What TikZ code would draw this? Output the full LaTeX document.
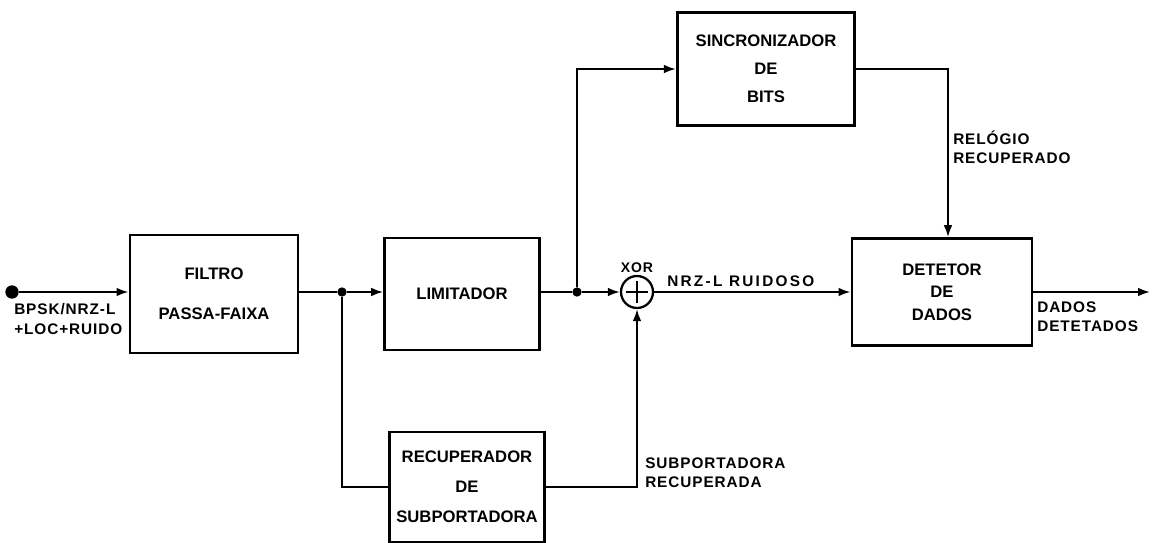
\documentclass[tikz,border=0pt]{standalone}
\usepackage{fontspec}
\setmainfont{Liberation Sans}
\newfontfamily\rotulofont[LetterSpace=6]{Liberation Sans}
\newfontfamily\largafont[LetterSpace=15]{Liberation Sans}
\usetikzlibrary{arrows.meta}
\usetikzlibrary{positioning}

\tikzset{
  bloco/.style={draw, line width=2.2pt, align=center, inner sep=2pt,
    font=\fontsize{12.5}{15}\selectfont\bfseries},
  rotulo/.style={anchor=west, align=left, inner sep=0pt,
    font=\rotulofont\fontsize{11.5}{14.5}\selectfont\bfseries},
  seta/.style={line width=1.5pt, -{Latex[length=9pt,width=6.5pt]}},
  linha/.style={line width=1.5pt},
  ponto/.style={circle, fill, inner sep=0pt, minimum size=7pt},
}

\begin{document}
\begin{tikzpicture}[x=0.75pt, y=-0.75pt]
\useasboundingbox (0,0) rectangle (1158,543);

% blocos
\node (filtro) [bloco, minimum width=126pt, minimum height=88.5pt] at (214,294) {FILTRO\\[15pt]PASSA-FAIXA};
\node (limitador) [bloco, minimum width=116pt, minimum height=84pt] at (462,294) {LIMITADOR};
\node (sincronizador) [bloco, minimum width=133pt, minimum height=85pt] at (766,69) {SINCRONIZADOR\\[6pt]DE\\[6pt]BITS};
\node (recuperador) [bloco, minimum width=116pt, minimum height=82.5pt] at (467,487) {RECUPERADOR\\[7.5pt]DE\\[7.5pt]SUBPORTADORA};
\node (detetor) [bloco, minimum width=135pt, minimum height=80pt] at (942,292) {DETETOR\\[2pt]DE\\[2pt]DADOS};
\node (xor) [circle, draw, line width=1.7pt, minimum size=24pt, inner sep=0pt] at (637,292) {};
\draw [line width=1.7pt, shorten >=4.5pt, shorten <=4.5pt] (xor.north) -- (xor.south);
\draw [line width=1.7pt, shorten >=4.5pt, shorten <=4.5pt] (xor.west) -- (xor.east);

\node (entrada) [ponto, minimum size=10pt] at (12,292) {};
\node (juncao filtro) [ponto] at (342,292) {};
\node (juncao limitador) [ponto] at (577,292) {};
\coordinate (saida) at (1150,292);

% ligacoes
\draw [seta] (entrada) -- (filtro.west |- entrada);
\draw [linha] (filtro.east |- juncao filtro) -- (juncao filtro);
\draw [seta] (juncao filtro) -- (limitador.west |- juncao filtro);
\draw [linha] (juncao filtro) |- (recuperador.west);
\draw [linha] (limitador.east |- juncao limitador) -- (juncao limitador);
\draw [seta] (juncao limitador) -- (xor.west);
\draw [seta] (juncao limitador) |- (sincronizador.west);
\draw [seta] (sincronizador.east) -| ([xshift=4.5pt]detetor.north);
\draw [seta] (recuperador.east) -| (xor.south);
\draw [seta] (xor.east) -- (detetor.west);
\draw [seta] (detetor.east) -- (saida);

% rotulos
\node (rotulo entrada) [rotulo] at (14,319) {BPSK/NRZ-L\\+LOC+RUIDO};
\node (rotulo xor) [inner sep=0pt, font=\rotulofont\fontsize{10.5}{12}\selectfont\bfseries] at (637,268) {XOR};
\node (rotulo ruidoso) [rotulo, font=\largafont\fontsize{11.5}{14.5}\selectfont\bfseries] at (667,281) {NRZ-L RUIDOSO};
\node (rotulo subportadora) [rotulo] at (645,473) {SUBPORTADORA\\RECUPERADA};
\node (rotulo relogio) [rotulo] at (953,147) {RELÓGIO\\RECUPERADO};
\node (rotulo dados) [rotulo] at (1037,317) {DADOS\\DETETADOS};

\end{tikzpicture}
\end{document}
